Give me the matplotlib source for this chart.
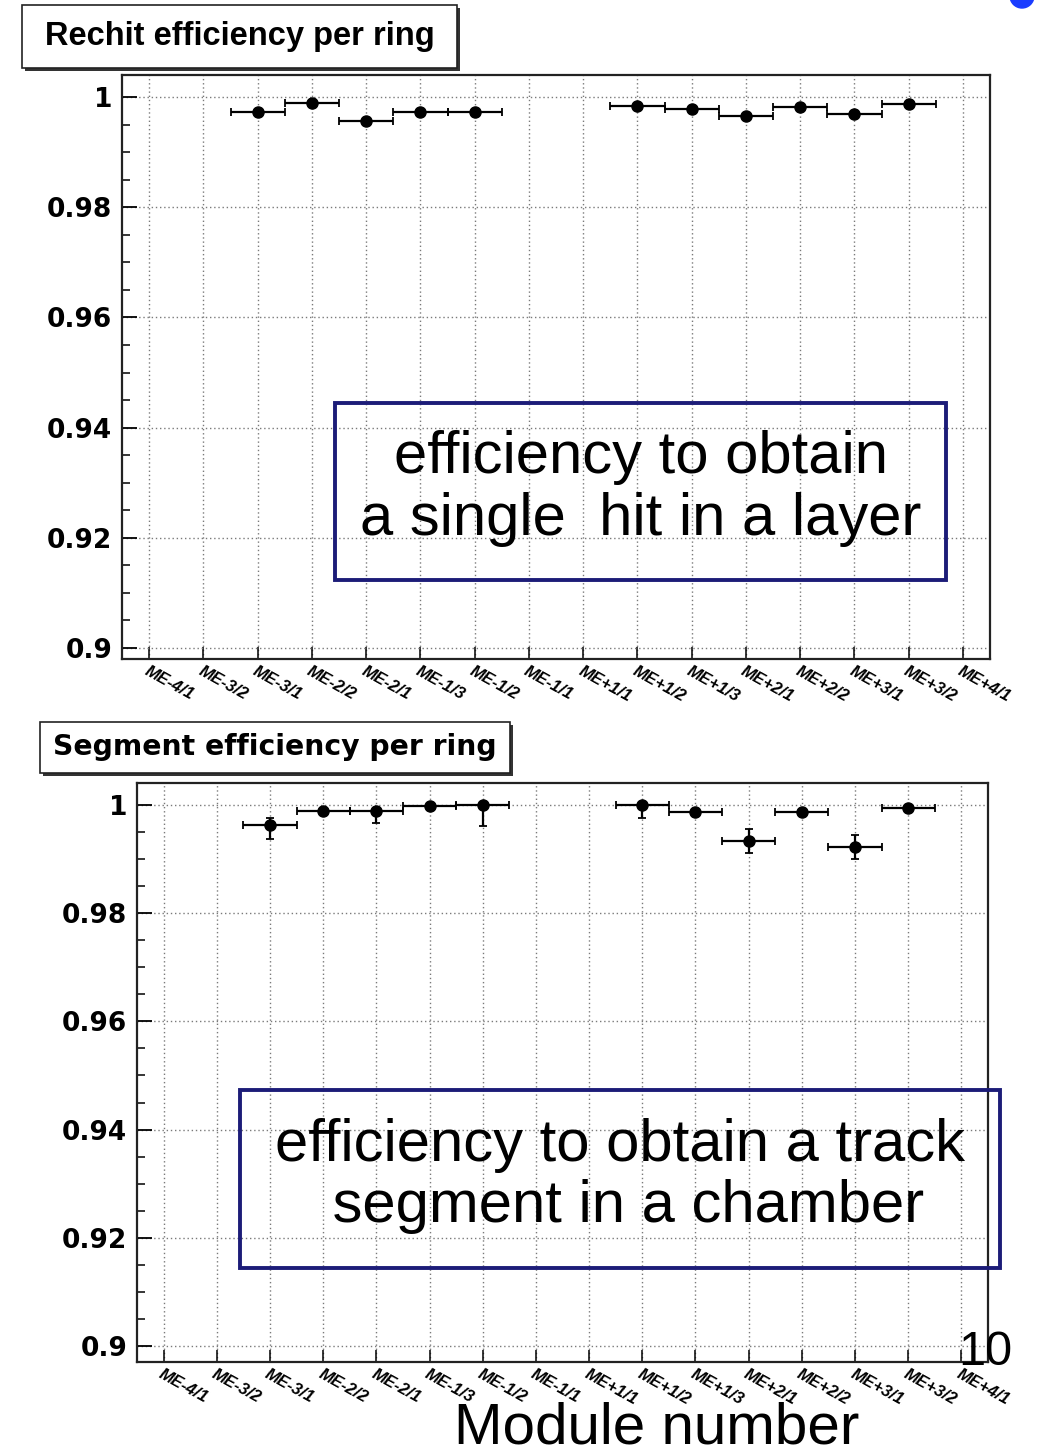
import matplotlib
matplotlib.use("Agg")
import matplotlib.pyplot as plt
from matplotlib.patches import Rectangle, Ellipse
from matplotlib.ticker import MultipleLocator

W, H = 1053, 1455

# Rings along the x axis
rings = ["ME-4/1", "ME-3/2", "ME-3/1", "ME-2/2", "ME-2/1", "ME-1/3", "ME-1/2", "ME-1/1",
         "ME+1/1", "ME+1/2", "ME+1/3", "ME+2/1", "ME+2/2", "ME+3/1", "ME+3/2", "ME+4/1"]

# Rechit efficiency per ring
rechit_rings = ["ME-3/1", "ME-2/2", "ME-2/1", "ME-1/3", "ME-1/2",
                "ME+1/2", "ME+1/3", "ME+2/1", "ME+2/2", "ME+3/1", "ME+3/2"]
rechit_eff = [0.9972, 0.9990, 0.9957, 0.9972, 0.9972,
              0.9984, 0.9978, 0.9966, 0.9982, 0.9970, 0.9988]
rechit_err = [0.0002, 0.0002, 0.0002, 0.0002, 0.0002,
              0.0002, 0.0002, 0.0002, 0.0002, 0.0002, 0.0002]

# Segment efficiency per ring
segment_rings = rechit_rings
segment_eff = [0.9963, 0.9990, 0.9989, 0.9999, 1.0000,
               1.0000, 0.9988, 0.9934, 0.9987, 0.9922, 0.9995]
segment_err_lo = [0.0025, 0.0005, 0.0022, 0.0004, 0.0038,
                  0.0023, 0.0005, 0.0022, 0.0004, 0.0022, 0.0003]
segment_err_hi = [0.0014, 0.0004, 0.0002, 0.0001, 0.0000,
                  0.0000, 0.0004, 0.0022, 0.0003, 0.0023, 0.0003]

fig = plt.figure(figsize=(W / 100, H / 100), dpi=100)


def px_box(x0, y0, x1, y1):
    # pixel corners -> figure fraction [left, bottom, width, height]
    return [x0 / W, 1 - y1 / H, (x1 - x0) / W, (y1 - y0) / H]


def style_axes(ax, ylim):
    ax.set_xlim(-0.5, len(rings) - 0.5)
    ax.set_ylim(*ylim)
    ax.yaxis.set_major_locator(MultipleLocator(0.02))
    ax.yaxis.set_minor_locator(MultipleLocator(0.005))
    ax.set_yticks([0.9, 0.92, 0.94, 0.96, 0.98, 1.0])
    ax.set_yticklabels(["0.9", "0.92", "0.94", "0.96", "0.98", "1"],
                       fontsize=19, fontweight="bold", family="DejaVu Sans")
    ax.set_xticks(range(len(rings)))
    ax.set_xticklabels(rings, rotation=-29, ha="left", va="top",
                       rotation_mode="anchor", fontsize=12, fontweight="bold",
                       fontstyle="italic", family="Liberation Sans")
    ax.tick_params(axis="y", which="major", direction="in", length=11, width=1.3,
                   pad=7, right=False)
    ax.tick_params(axis="y", which="minor", direction="in", length=6, width=1.1)
    ax.tick_params(axis="x", which="major", direction="in", length=9, width=1.1,
                   pad=3, top=False)
    ax.grid(True, which="major", color="#7a7a7a", linestyle=(0, (1, 2)), linewidth=1.0)
    for sp in ax.spines.values():
        sp.set_linewidth(1.6)
        sp.set_color("#222222")


def title_box(x0, y0, x1, y1, text, size, family):
    shadow = Rectangle((x0 / W + 3 / W, 1 - y1 / H - 3 / H), (x1 - x0) / W, (y1 - y0) / H,
                       transform=fig.transFigure, facecolor="#333333", edgecolor="none")
    box = Rectangle((x0 / W, 1 - y1 / H), (x1 - x0) / W, (y1 - y0) / H,
                    transform=fig.transFigure, facecolor="white", edgecolor="#222222",
                    linewidth=1.2)
    fig.patches.extend([shadow, box])
    fig.text((x0 + x1) / 2 / W, 1 - (y0 + y1) / 2 / H, text, ha="center", va="center",
             fontsize=size, fontweight="bold", family=family)


def note_box(x0, y0, x1, y1, text):
    box = Rectangle((x0 / W, 1 - y1 / H), (x1 - x0) / W, (y1 - y0) / H,
                    transform=fig.transFigure, facecolor="none", edgecolor="#1c1c78",
                    linewidth=2.8, zorder=5)
    fig.patches.append(box)
    fig.text((x0 + x1) / 2 / W, 1 - (y0 + y1) / 2 / H + 0.002, text, ha="center",
             va="center", fontsize=43, family="Liberation Sans",
             linespacing=1.15, zorder=6)


# top panel: rechit efficiency
ax1 = fig.add_axes(px_box(122, 75, 990, 659))
style_axes(ax1, (0.898, 1.004))
x1 = [rings.index(r) for r in rechit_rings]
ax1.errorbar(x1, rechit_eff, xerr=0.5, yerr=rechit_err, fmt="o", color="black",
             markersize=8, elinewidth=1.6, capsize=3, capthick=1.3, zorder=4)

# bottom panel: segment efficiency
ax2 = fig.add_axes(px_box(137, 783, 988, 1362))
style_axes(ax2, (0.897, 1.0041))
x2 = [rings.index(r) for r in segment_rings]
ax2.errorbar(x2, segment_eff, xerr=0.5, yerr=[segment_err_lo, segment_err_hi], fmt="o",
             color="black", markersize=8, elinewidth=1.6, capsize=3, capthick=1.3,
             zorder=4)

title_box(22, 5, 457, 68, "Rechit efficiency per ring", 23.5, "Liberation Sans")
title_box(40, 722, 510, 773, "Segment efficiency per ring", 20.3, "DejaVu Sans")

note_box(335, 403, 946, 580, "efficiency to obtain\na single  hit in a layer")
note_box(240, 1090, 1000, 1268, "efficiency to obtain a track\n segment in a chamber")

# slide page number and axis title
fig.text(958 / W, 1 - 1365 / H, "10", fontsize=35, family="Liberation Sans",
         ha="left", va="baseline")
fig.text(657 / W, 1 - 1455 / H, "Module number", fontsize=42, family="Liberation Sans",
         ha="center", va="bottom")

# blue dot at the top right corner
fig.patches.append(Ellipse((1022 / W, 1 + 4 / H), 24 / W, 24 / H,
                           transform=fig.transFigure, color="#1a3cff"))

fig.savefig("out.png", dpi=100)
